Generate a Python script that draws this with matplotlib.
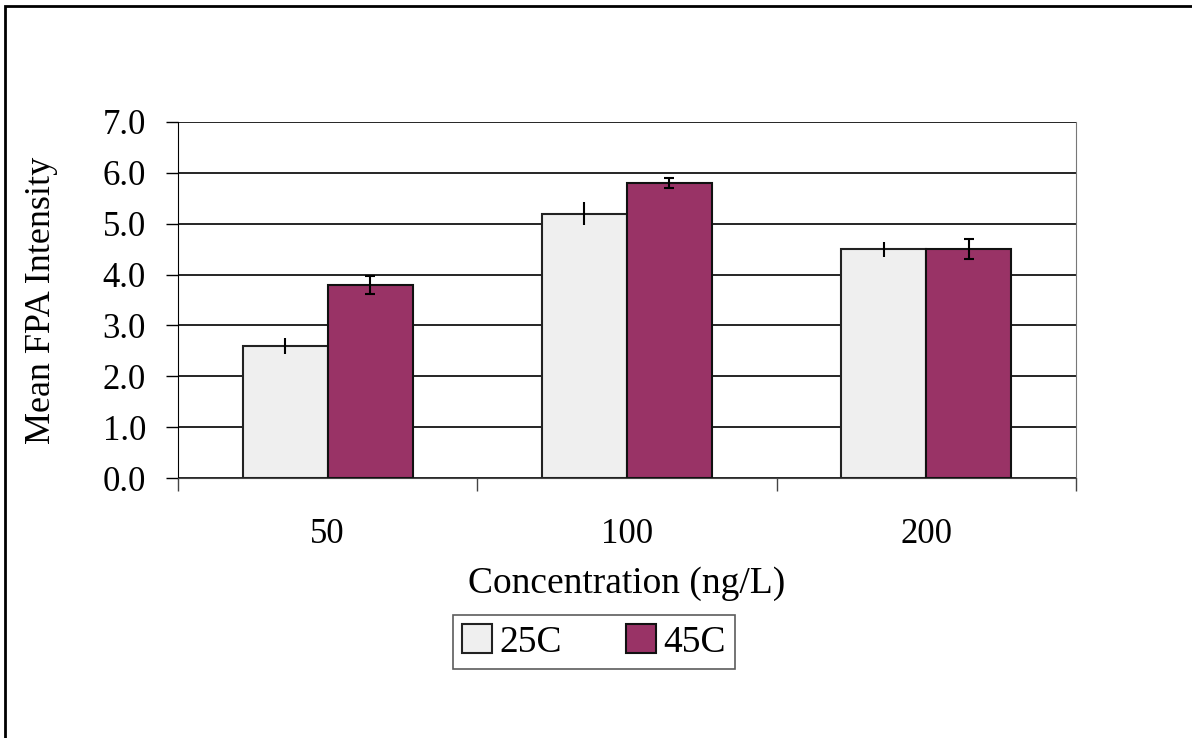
import numpy as np
import matplotlib
matplotlib.use("Agg")
import matplotlib.pyplot as plt
from matplotlib.patches import Rectangle

concentrations = ["50", "100", "200"]
mean_25c = [2.6, 5.2, 4.5]
err_25c = [0.16, 0.23, 0.15]
mean_45c = [3.8, 5.8, 4.5]
err_45c = [0.18, 0.10, 0.19]
yticks = [0.0, 1.0, 2.0, 3.0, 4.0, 5.0, 6.0, 7.0]

plt.rcParams['font.family'] = ['Liberation Serif', 'DejaVu Serif']

fig = plt.figure(figsize=(11.92, 7.38), dpi=100)
ax = fig.add_axes([0.1493, 0.3523, 0.7534, 0.4824])

# outer frame of the chart object (only left and top visible)
fig.patches.append(Rectangle((5 / 1192, -0.05), 1.2, 1 - 6 / 738 + 0.05,
                             transform=fig.transFigure, fill=False,
                             edgecolor='black', linewidth=2))

x = np.arange(len(concentrations))
w = 0.284
b1 = ax.bar(x - w / 2, mean_25c, w, color='#efefef', edgecolor='#222222',
            linewidth=1.5, label='25C', zorder=3)
b2 = ax.bar(x + w / 2, mean_45c, w, color='#993366', edgecolor='#111111',
            linewidth=1.5, label='45C', zorder=3)
ax.errorbar(x - w / 2, mean_25c, yerr=err_25c, fmt='none', ecolor='black',
            elinewidth=1.5, capsize=0, zorder=4)
ax.errorbar(x + w / 2, mean_45c, yerr=err_45c, fmt='none', ecolor='black',
            elinewidth=1.5, capsize=3.6, capthick=1.5, zorder=4)

ax.set_xlim(-0.5, 2.5)
ax.set_ylim(0, 7)
ax.set_yticks(yticks)
ax.set_yticklabels([f"{v:.1f}" for v in yticks])
ax.yaxis.grid(True, color='black', linewidth=1.2, zorder=0)

ax.set_xticks([-0.5, 0.5, 1.5, 2.5])
ax.set_xticklabels([])
ax.set_xticks(x, minor=True)
ax.set_xticklabels(concentrations, minor=True)
ax.tick_params(axis='x', which='major', direction='out', length=9, width=1, color='#444444')
ax.tick_params(axis='x', which='minor', length=0, pad=29, labelsize=25)
ax.tick_params(axis='y', direction='out', length=9, width=1, pad=14, labelsize=25)

ax.spines['top'].set_visible(False)
ax.spines['right'].set_color('#777777')
ax.spines['left'].set_color('black')
ax.spines['bottom'].set_color('#444444')

ax.set_ylabel('Mean FPA Intensity', fontsize=26, labelpad=32)
ax.set_xlabel('Concentration (ng/L)', fontsize=27, labelpad=11)

leg = fig.legend(handles=[b1, b2], loc='center', bbox_to_anchor=(594 / 1192, 1 - 642 / 738),
                 ncol=2, fontsize=27, frameon=True, fancybox=False, edgecolor='#333333',
                 handlelength=0.8, handleheight=0.8, handletextpad=0.2, columnspacing=1.7,
                 borderpad=0.25, borderaxespad=0)
leg.get_frame().set_linewidth(1.2)

fig.savefig('out.png', dpi=100)
